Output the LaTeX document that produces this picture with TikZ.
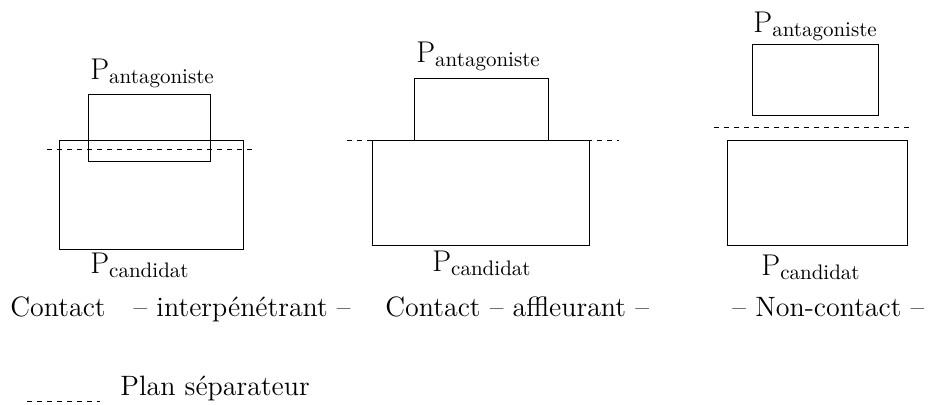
\documentclass[tikz,border=0pt]{standalone}
\usepackage{tikz}

\newcommand{\indice}[1]{\raisebox{-2pt}{\fontsize{10.5}{12}\selectfont #1}}

\begin{document}
\begin{tikzpicture}[
    x=0.5pt, y=-0.5pt,
    piece/.style={draw, line width=0.5pt},
    plan/.style={draw, line width=0.5pt, dash pattern=on 2.5pt off 2.5pt},
    pname/.style={anchor=base west, inner sep=0pt, font=\fontsize{15}{18}\selectfont},
    legende/.style={anchor=base west, inner sep=0pt, font=\fontsize{14}{17}\selectfont}
]
\useasboundingbox (0,0) rectangle (935,404);

% Contact interpenetrant
\draw[plan] (47,149) -- (253,149);
\draw[piece] (88,94) rectangle (210,161);
\draw[piece] (59,140) rectangle (243,249);
\node[pname] (antag1) at (90,79) {P\indice{antagoniste}};
\node[pname] (cand1) at (90,273) {P\indice{candidat}};

% Contact affleurant
\draw[plan] (347,140) -- (619,140);
\draw[piece] (414,78) rectangle (548,140);
\draw[piece] (372,140) rectangle (589,245);
\node[pname] (antag2) at (416,62) {P\indice{antagoniste}};
\node[pname] (cand2) at (432,271) {P\indice{candidat}};

% Non-contact
\draw[plan] (714,127) -- (910,127);
\draw[piece] (752,44) rectangle (878,115);
\draw[piece] (727,140) rectangle (907,245);
\node[pname] (antag3) at (753,32) {P\indice{antagoniste}};
\node[pname] (cand3) at (761,275) {P\indice{candidat}};

% Captions
\node[legende] (cas1) at (10,316) {Contact\quad-- interpénétrant --};
\node[legende] (cas2) at (385,316) {Contact -- affleurant --};
\node[legende] (cas3) at (732,316) {-- Non-contact --};

% Legend
\draw[plan] (27,401) -- (100,401);
\node[legende] (plansep) at (120,395) {Plan séparateur};

\end{tikzpicture}
\end{document}
